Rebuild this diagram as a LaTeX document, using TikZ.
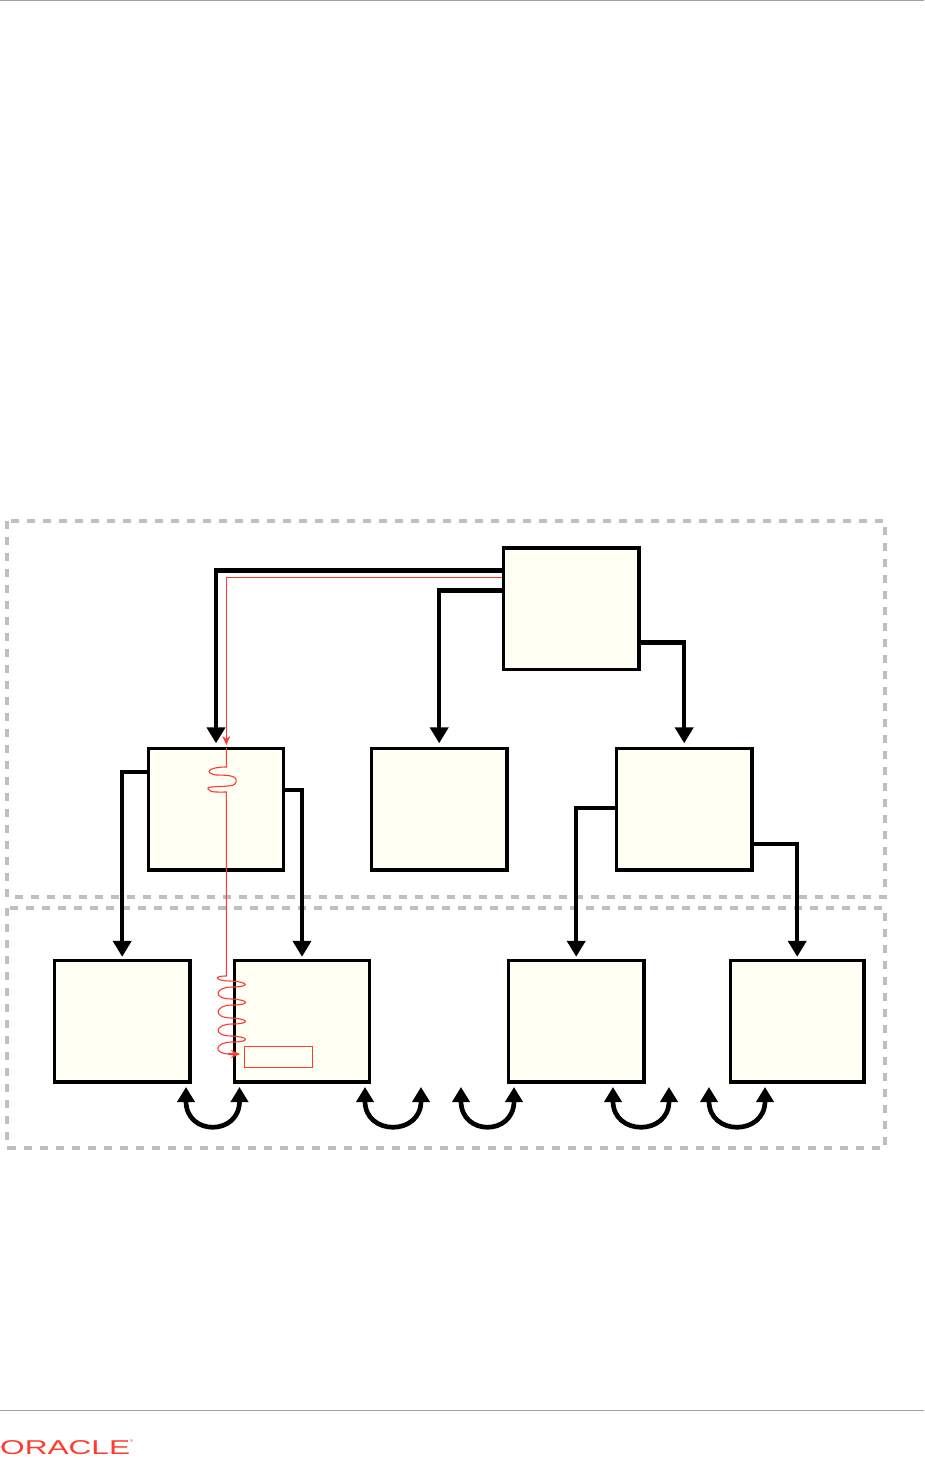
\documentclass[tikz,border=0pt]{standalone}
\usepackage{fontspec}
\usepackage{graphicx}
\setmainfont{Liberation Sans}
\usetikzlibrary{arrows.meta,calc}
\definecolor{boxfill}{RGB}{255,255,244}
\definecolor{zonegray}{RGB}{191,191,191}
\definecolor{tracered}{RGB}{255,59,48}
\definecolor{rulegray}{RGB}{160,160,160}

\begin{document}
\begin{tikzpicture}[x=1pt,y=-1pt,
  box/.style={rectangle,draw=black,fill=boxfill,line width=3.3pt,minimum width=135.5pt,minimum height=121.5pt,inner sep=0pt},
  arr/.style={-{Triangle[width=18pt,length=16pt]},line width=4.5pt,shorten >=3.5pt},
  swaparr/.style={{Triangle[width=17pt,length=15pt]}-{Triangle[width=17pt,length=15pt]},line width=4.7pt},
  zone/.style={zonegray,line width=4pt,dash pattern=on 8pt off 8pt},
  trace/.style={tracered,line width=1.1pt},
  tracearr/.style={trace,-{Stealth[width=8pt,length=9pt]}}
]
\useasboundingbox (0,0) rectangle (924,1458);
\fill[white] (0,0) rectangle (924,1458);
\draw[rulegray] (0,0.5) -- (924,0.5);
\draw[rulegray] (0,1410) -- (924,1410);
\draw[zone] (7,520.5) rectangle (885,896.5);
\draw[zone] (7,908) rectangle (885,1147.5);

\node[box] (root) at (571.2,608.7) {};
\node[box] (left) at (216,809.2) {};
\node[box] (mid) at (439.2,809.2) {};
\node[box] (right) at (684.2,809.2) {};
\node[box] (leafa) at (122.2,1021.2) {};
\node[box] (leafb) at (302,1021.2) {};
\node[box] (leafc) at (576.2,1021.2) {};
\node[box,minimum width=133.5pt] (leafd) at (797.2,1021.2) {};
\node[rectangle,draw=tracered,line width=1pt,minimum width=68pt,minimum height=21pt,inner sep=0pt] (slot) at (278.5,1056.5) {};

\draw[arr] ($(root.north west)+(0,24)$) -| (left.north);
\draw[arr] ($(root.north west)+(0,44)$) -| (mid.north);
\draw[arr] ($(root.north east)+(0,96)$) -| (right.north);
\draw[arr,shorten >=2pt] ($(left.north west)+(0,25)$) -| (leafa.north);
\draw[arr,shorten >=2pt] ($(left.north east)+(0,43)$) -| (leafb.north);
\draw[arr,shorten >=2pt] ($(right.north west)+(0,61)$) -| (leafc.north);
\draw[arr,shorten >=2pt] ($(right.north east)+(0,97)$) -| (leafd.north);

% call goes in, then down through the left box
\coordinate (tracein) at (226.3,745);
\draw[tracearr] ($(root.north west)+(0,31)$) -| (tracein);
\draw[trace] (226.3,748) -- (226.3,767)
  .. controls (208,767) and (204,773) .. (216,775)
  .. controls (230,775) and (240,776) .. (235,784)
  .. controls (232,788) and (205,785) .. (208,789)
  .. controls (210,793) and (220,792) .. (226.3,792)
  -- (226.3,976)
  .. controls (212,976) and (216,981) .. (230,981)
  .. controls (250,982) and (250,987) .. (232,987)
  .. controls (215,987) and (212,999) .. (232,999)
  .. controls (250,1000) and (250,1005) .. (232,1005)
  .. controls (215,1005) and (212,1018) .. (232,1018)
  .. controls (250,1019) and (250,1024) .. (232,1024)
  .. controls (215,1024) and (212,1036) .. (232,1036)
  .. controls (250,1037) and (250,1042) .. (232,1042)
  .. controls (215,1042) and (212,1054) .. (230,1054);
\coordinate (traceend) at ($(slot.west)+(-4,-2.5)$);
\draw[tracearr] (228,1054) -- (traceend);

\coordinate (a1) at (186,1087); \coordinate (a2) at (239.5,1087);
\coordinate (b1) at (365,1087); \coordinate (b2) at (421,1087);
\coordinate (c1) at (461,1087); \coordinate (c2) at (514,1087);
\coordinate (d1) at (613,1087); \coordinate (d2) at (669,1087);
\coordinate (e1) at (709,1087); \coordinate (e2) at (765,1087);
\draw[swaparr] (a1) .. controls ($(a1)+(0,49)$) and ($(a2)+(0,49)$) .. (a2);
\draw[swaparr] (b1) .. controls ($(b1)+(0,49)$) and ($(b2)+(0,49)$) .. (b2);
\draw[swaparr] (c1) .. controls ($(c1)+(0,49)$) and ($(c2)+(0,49)$) .. (c2);
\draw[swaparr] (d1) .. controls ($(d1)+(0,49)$) and ($(d2)+(0,49)$) .. (d2);
\draw[swaparr] (e1) .. controls ($(e1)+(0,49)$) and ($(e2)+(0,49)$) .. (e2);

\node[anchor=base west,inner sep=0pt,text=tracered,font=\fontsize{20}{20}\selectfont] (logo) at (0,1454.5) {\scalebox{1.58}[1]{ORACLE}\raisebox{12pt}{\fontsize{4}{4}\selectfont\textregistered}};
\end{tikzpicture}
\end{document}
